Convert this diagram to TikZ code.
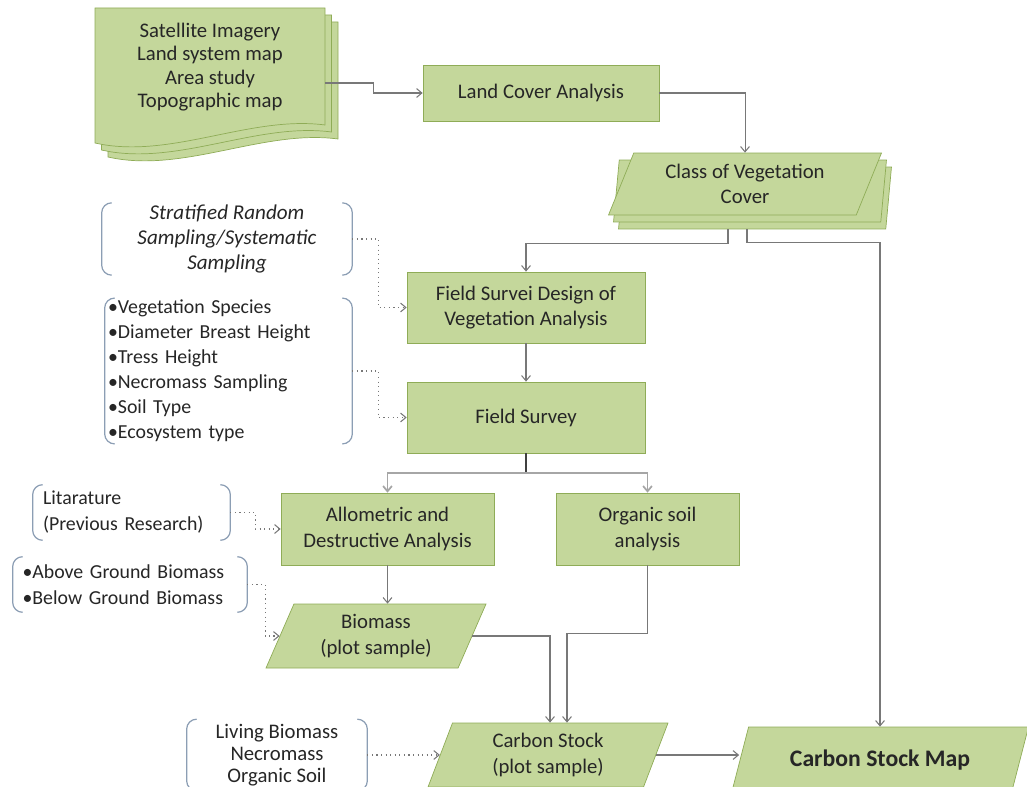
\documentclass[tikz,border=0pt]{standalone}
\usepackage{fontspec}
\setmainfont{Carlito}
\usetikzlibrary{shapes.geometric,arrows.meta}
\definecolor{boxfill}{RGB}{196,215,155}
\definecolor{boxline}{RGB}{143,172,87}
\definecolor{brackline}{RGB}{140,158,180}
\definecolor{linegray}{RGB}{120,120,120}

\begin{document}
\begin{tikzpicture}[x=0.02cm,y=-0.02cm,>={Straight Barb[length=3pt,width=5pt]}]
\useasboundingbox (0,0) rectangle (1027,787);
\clip (0,0) rectangle (1027,787);
\tikzstyle{every node}=[font=\fontsize{11.8}{14.5}\selectfont,text=black!85];
\tikzstyle{proc}=[draw=boxline,fill=boxfill,rectangle,align=center];
\tikzstyle{data}=[draw=boxline,fill=boxfill,trapezium,trapezium stretches body,align=center];
\tikzstyle{note}=[inner xsep=0pt,inner ysep=1pt];
\tikzstyle{brk}=[draw=brackline,line width=0.7pt,rounded corners=0.2cm];
\tikzstyle{link}=[->,draw=linegray,line width=0.6pt];
\tikzstyle{hint}=[->,draw=linegray,dotted,line width=0.6pt];
\foreach \d in {2,1,0}
  \draw[draw=boxline,fill=boxfill,shift={(6.5*\d,7*\d)}] (95,8) -- (325,8) -- (325,125) .. controls (250,115) and (170,160) .. (95,143) -- cycle;
\node[align=center,minimum width=4.6cm,font=\fontsize{11.8}{13.3}\selectfont] (sources) at (210,67) {Satellite Imagery\\Land system map\\Area study\\Topographic map};
\node[proc,minimum width=4.72cm,minimum height=1.12cm] (land) at (541,93) {Land Cover Analysis};
\node[data,trapezium left angle=64,trapezium right angle=116,minimum width=5.46cm,minimum height=1.24cm] (vegc) at (755,198) {};
\node[data,trapezium left angle=64,trapezium right angle=116,minimum width=5.46cm,minimum height=1.24cm] (vegb) at (750,191) {};
\node[data,trapezium left angle=64,trapezium right angle=116,minimum width=5.46cm,minimum height=1.24cm] (veg) at (745,184) {Class of Vegetation\\Cover};
\node[proc,minimum width=4.76cm,minimum height=1.42cm] (design) at (526,307.5) {Field Survei Design of\\Vegetation Analysis};
\node[proc,minimum width=4.76cm,minimum height=1.42cm] (survey) at (526,417.5) {Field Survey};
\node[proc,minimum width=4.26cm,minimum height=1.44cm] (allo) at (387.5,529) {Allometric and\\Destructive Analysis};
\node[proc,minimum width=3.66cm,minimum height=1.44cm] (organic) at (647.5,529) {Organic soil\\analysis};
\node[data,trapezium left angle=63,trapezium right angle=117,minimum width=4.4cm,minimum height=1.28cm] (biomass) at (376,636) {Biomass\\(plot sample)};
\node[data,trapezium left angle=66,trapezium right angle=114,minimum width=4.8cm,minimum height=1.28cm] (carbon) at (548,755) {Carbon Stock\\(plot sample)};
\node[data,trapezium left angle=62,trapezium right angle=118,minimum width=5.94cm,minimum height=1.32cm,font=\fontsize{13.5}{16}\selectfont\bfseries] (map) at (880,760) {Carbon Stock Map};
\node[note,align=center,minimum width=5cm,minimum height=1.24cm,font=\fontsize{12}{14.2}\selectfont\itshape] (strat) at (227,239) {Stratified Random\\Sampling/Systematic\\Sampling};
\node[note,align=left,text width=4.82cm,inner xsep=0.06cm,font=\fontsize{11.3}{14.2}\selectfont] (params) at (228.5,371) {•Vegetation Species\\•Diameter Breast Height\\•Tress Height\\•Necromass Sampling\\•Soil Type\\•Ecosystem type};
\node[note,align=left,text width=3.54cm,inner xsep=0.2cm,minimum height=1.1cm,font=\fontsize{11.3}{14.8}\selectfont] (lit) at (131.5,512.5) {Litarature\\(Previous Research)};
\node[note,align=left,text width=4.3cm,inner xsep=0.19cm,minimum height=1.1cm,font=\fontsize{11.3}{14.8}\selectfont] (agb) at (130,584.5) {•Above Ground Biomass\\•Below Ground Biomass};
\node[note,align=center,minimum width=3.6cm,minimum height=1.42cm,font=\fontsize{11.8}{12.4}\selectfont] (living) at (277,755) {Living Biomass\\Necromass\\Organic Soil};
\foreach \n in {strat,params,lit,agb,living}{
  \draw[brk] ([xshift=0.2cm]\n.north west) -- (\n.north west) -- (\n.south west) -- ([xshift=0.2cm]\n.south west);
  \draw[brk] ([xshift=-0.2cm]\n.north east) -- (\n.north east) -- (\n.south east) -- ([xshift=-0.2cm]\n.south east);
}
\draw[link] ([yshift=-0.32cm]sources.east) -- ++(48,0) |- (land.west);
\draw[link] (land.east) -| (veg.north);
\draw[link] ([xshift=-0.54cm]vegc.south) -- ++(0,14) -| (design.north);
\draw[link] ([xshift=-0.16cm]vegc.south) -- ++(0,13) -| (map.north);
\draw[link] (design) -- (survey);
\draw[draw=black!75,line width=0.8pt] (survey.south) -- ++(0,20) coordinate (fork);
\draw[link,draw=black!35,line width=1pt] (fork) -| (allo.north);
\draw[link,draw=black!35,line width=1pt] (fork) -| (organic.north);
\draw[link] (allo.south) -- (allo.south |- biomass.north);
\draw[link] (biomass.east) -| ([xshift=0.04cm]carbon.north);
\draw[link] (organic.south) -- ++(0,68) -| ([xshift=0.38cm]carbon.north);
\draw[link] (carbon.east) -- ++(83,0);
\draw[hint] (strat.east) -- ++(26,0) |- (design.west);
\draw[hint] (params.east) -- ++(26,0) |- (survey.west);
\draw[hint] (lit.east) -- ++(25,0) |- (allo.west);
\draw[hint] (agb.east) -- ++(18,0) |- (biomass.west);
\draw[hint] (living.east) -- (living.east -| carbon.west);
\end{tikzpicture}
\end{document}
